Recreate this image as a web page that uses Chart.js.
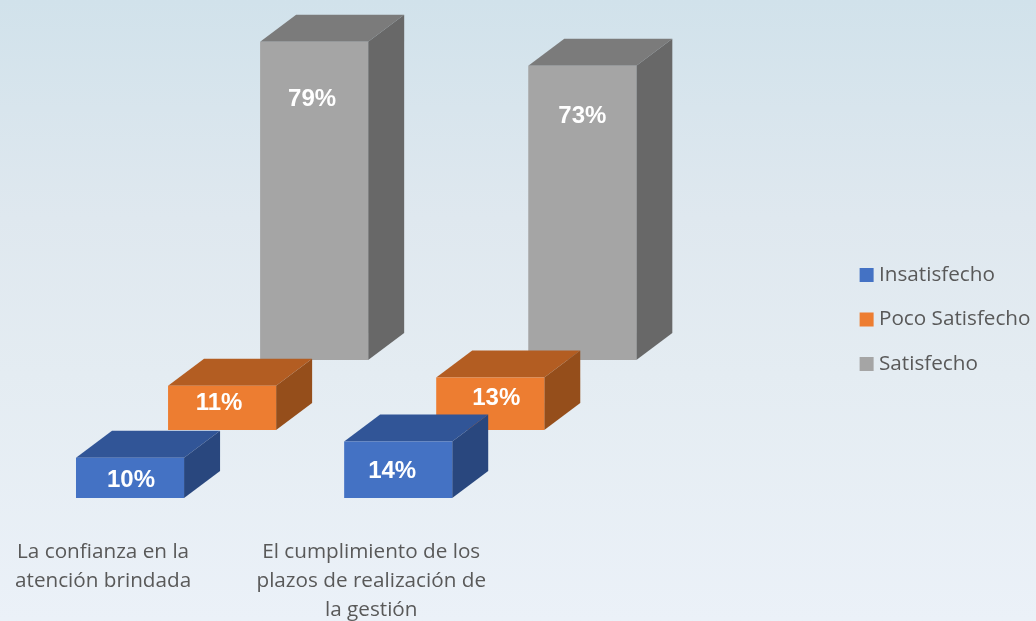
<!DOCTYPE html>
<html lang="es">
<head>
<meta charset="utf-8">
<title>Satisfacción</title>
<script src="https://cdn.jsdelivr.net/npm/chart.js@4"></script>
<style>
    html, body { margin: 0; padding: 0; width: 1036px; height: 621px; overflow: hidden; }
    body { background: linear-gradient(180deg, #d1e2eb 0%, #dfe8ef 35%, #e4ecf2 60%, #ebf1f8 100%); }
    canvas { display: block; }
</style>
</head>
<body>
<canvas id="myChart" width="1036" height="621"></canvas>
<script>
const categories = [
    ["La confianza en la", "atención brindada"],
    ["El cumplimiento de los", "plazos de realización de", "la gestión"]
];
const insatisfecho = [10, 14];
const pocoSatisfecho = [11, 13];
const satisfecho = [79, 73];

const seriesNames = ["Insatisfecho", "Poco Satisfecho", "Satisfecho"];

// front, top and side colour of each series
const frontColors = ["#4472c4", "#ed7d31", "#a5a5a5"];
const topColors = ["#315597", "#b35d22", "#7b7b7b"];
const sideColors = ["#29477e", "#954e1b", "#686868"];

// the extrusion going back and up
const depthX = 36;
const depthY = -27;
const pxPerUnit = 4.03;
const plotTop = 18;
const plotBottom = 498;
// how far every row of bars sits behind the first one
const rowLift = [0, 68, 138];

const axisFor = (row) => {
    return {
        display: false,
        min: -rowLift[row] / pxPerUnit,
        max: (plotBottom - plotTop - rowLift[row]) / pxPerUnit
    };
}

const drawFace = (ctx, color, points) => {
    ctx.fillStyle = color;
    ctx.beginPath();
    ctx.moveTo(points[0][0], points[0][1]);
    for (let i = 1; i < points.length; i++) {
        ctx.lineTo(points[i][0], points[i][1]);
    }
    ctx.closePath();
    ctx.fill();
}

const boxFaces = {
    id: "boxFaces",
    beforeDatasetDraw(chart, args) {
        const ctx = chart.ctx;
        const row = args.index;
        ctx.save();
        args.meta.data.forEach((bar) => {
            const left = bar.x - bar.width / 2;
            const right = bar.x + bar.width / 2;
            drawFace(ctx, topColors[row], [[left, bar.y], [left + depthX, bar.y + depthY], [right + depthX, bar.y + depthY], [right, bar.y]]);
            drawFace(ctx, sideColors[row], [[right, bar.y], [right + depthX, bar.y + depthY], [right + depthX, bar.base + depthY], [right, bar.base]]);
        });
        ctx.restore();
    }
};

// small shifts of the value labels from the middle of the front face
const labelNudge = [[[1, 3], [-6, 2]], [[-3, -4], [6, -5]], [[-2, -101], [0, -97]]];

const valueLabels = {
    id: "valueLabels",
    afterDatasetDraw(chart, args) {
        const ctx = chart.ctx;
        const values = chart.data.datasets[args.index].data;
        ctx.save();
        ctx.fillStyle = "#ffffff";
        ctx.font = "bold 24px 'Liberation Sans', Arial, sans-serif";
        ctx.textAlign = "center";
        ctx.textBaseline = "middle";
        args.meta.data.forEach((bar, i) => {
            const nudge = labelNudge[args.index][i];
            ctx.fillText(values[i] + "%", bar.x + nudge[0], (bar.y + bar.base) / 2 + nudge[1]);
        });
        ctx.restore();
    }
};

// the legend swatch is a tiny box with a thick outline, it keeps the text close to it
const legendItems = (chart) => {
    const items = Chart.defaults.plugins.legend.labels.generateLabels(chart);
    items.forEach((item) => {
        item.strokeStyle = item.fillStyle;
        item.lineWidth = 10;
    });
    return items;
}

const ctx = document.getElementById("myChart").getContext("2d");
const myChart = new Chart(ctx, {
    type: "bar",
    data: {
        labels: categories,
        datasets: [
            { label: seriesNames[0], data: insatisfecho, backgroundColor: frontColors[0], yAxisID: "y0", clip: false },
            { label: seriesNames[1], data: pocoSatisfecho, backgroundColor: frontColors[1], yAxisID: "y1", clip: false },
            { label: seriesNames[2], data: satisfecho, backgroundColor: frontColors[2], yAxisID: "y2", clip: false }
        ]
    },
    options: {
        responsive: false,
        animation: false,
        categoryPercentage: 276 / 268,
        barPercentage: 108 / 92,
        layout: { padding: { left: 88, right: -4.5, top: plotTop, bottom: 0 } },
        scales: {
            x: {
                grid: { display: false },
                border: { display: false },
                ticks: {
                    autoSkip: false,
                    maxRotation: 0,
                    padding: 32,
                    labelOffset: -119,
                    color: "#595959",
                    font: { family: "'Open Sans'", size: 20.7, lineHeight: 1.4 }
                },
                afterFit: (scale) => { scale.height = 123; }
            },
            y0: axisFor(0),
            y1: axisFor(1),
            y2: {
                ...axisFor(2),
                display: true,
                position: "right",
                grid: { display: false },
                border: { display: false },
                ticks: { display: false },
                afterFit: (scale) => { scale.width = 216.5; }
            }
        },
        plugins: {
            legend: {
                position: "right",
                align: "center",
                labels: {
                    boxWidth: 4,
                    boxHeight: 4,
                    padding: 23.8,
                    color: "#595959",
                    font: { family: "'Open Sans'", size: 20.7 },
                    generateLabels: legendItems
                }
            },
            tooltip: { enabled: false }
        }
    },
    plugins: [boxFaces, valueLabels]
});
</script>
</body>
</html>
